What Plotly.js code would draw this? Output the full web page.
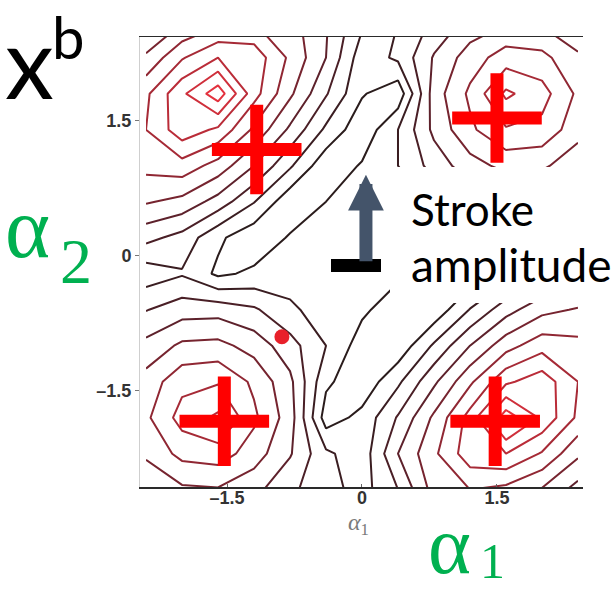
<!DOCTYPE html>
<html>
<head>
<meta charset="utf-8">
<script src="https://cdn.plot.ly/plotly-3.0.1.min.js"></script>
<style>html,body{margin:0;padding:0;background:#fff;}#chart{width:611px;height:593px;}</style>
</head>
<body>
<div id="chart"></div>
<script>
// grid of the contour field (alpha1 across, alpha2 up)
const alpha1Grid = [-2.4, -2.0, -1.6, -1.2, -0.8, -0.4, 0, 0.4, 0.8, 1.2, 1.6, 2.0, 2.4];
const alpha2Grid = [-2.6, -2.2, -1.8, -1.4, -1.0, -0.6, -0.2, 0.2, 0.6, 1.0, 1.4, 1.8, 2.2, 2.6];
const xbValues = [
  [4.0, 4.8, 4.9, 4.3, 3.2, 2.4, 1.6, 3.0, 5.4, 6.0, 5.7, 4.9, 3.6],
  [5.2, 6.3, 6.5, 5.5, 4.1, 2.2, 1.4, 4.0, 5.8, 7.6, 8.0, 6.9, 5.2],
  [5.8, 7.4, 8.2, 6.2, 4.5, 0.5, 1.3, 3.1, 5.2, 7.4, 10.6, 8.8, 6.8],
  [5.4, 6.7, 6.9, 5.8, 4.25, 1.2, 0.3, 1.8, 3.8, 5.8, 7.8, 8.6, 7.0],
  [4.3, 5.2, 5.3, 4.6, 3.4, 2.0, 0.5, 0.3, 2.15, 4.0, 5.6, 6.6, 6.3],
  [2.95, 3.55, 3.6, 3.15, 2.2, 1.5, 1.2, 0.4, 0.3, 2.05, 3.6, 4.7, 5.1],
  [1.44, 1.9, 0.8, 1.2, 1.5, 1.5, 1.5, 1.2, 0.5, 0.3, 1.5, 2.65, 3.3],
  [3.3, 2.65, 1.2, 0.3, 1.1, 1.5, 1.5, 1.5, 1.5, 1.6, 0.5, 1.9, 1.44],
  [5.1, 4.7, 3.6, 2.05, 0.3, 1.0, 1.5, 1.5, 2.2, 3.15, 3.6, 3.55, 2.95],
  [6.3, 6.6, 5.6, 4.0, 2.15, 0.3, 1.1, 2.0, 3.4, 4.6, 5.3, 5.2, 4.3],
  [7.0, 8.6, 7.8, 5.8, 3.8, 1.8, 0.3, 2.0, 4.25, 5.8, 6.9, 6.7, 5.4],
  [6.8, 8.8, 10.6, 7.4, 5.2, 3.1, 1.1, 0.3, 4.5, 6.2, 8.2, 7.4, 5.8],
  [5.2, 6.9, 8.0, 7.6, 5.8, 4.0, 1.4, 2.2, 4.1, 5.5, 6.5, 6.3, 5.2],
  [3.6, 4.9, 5.7, 6.0, 5.4, 4.1, 2.2, 2.0, 3.2, 4.3, 4.9, 4.8, 4.0]
];
// red cross markers and red dot
const crossAlpha1 = [-1.17, 1.5, -1.53, 1.48];
const crossAlpha2 = [1.18, 1.53, -1.84, -1.84];
const dotAlpha1 = [-0.89];
const dotAlpha2 = [-0.9];
// tick labels
const tickValues = [-1.5, 0, 1.5];
const tickLabels = ['\u20131.5', '0', '1.5'];

const traces = [
  {
    type: 'contour', x: alpha1Grid, y: alpha2Grid, z: xbValues,
    contours: {coloring: 'lines', start: 1, end: 10, size: 1},
    line: {width: 2, smoothing: 0},
    zauto: false, zmin: 1, zmax: 10,
    colorscale: [[0, '#2a1c1c'], [0.3, '#55202a'], [0.6, '#9a2834'], [1, '#e3323e']],
    showscale: false, hoverinfo: 'skip'
  },
  {
    type: 'scatter', mode: 'markers', x: crossAlpha1, y: crossAlpha2,
    marker: {symbol: 'cross-thin', size: 64, color: '#ff0000', line: {width: 13, color: '#ff0000'}},
    hoverinfo: 'skip'
  },
  {
    type: 'scatter', mode: 'markers', x: dotAlpha1, y: dotAlpha2,
    marker: {symbol: 'circle', size: 15, color: '#e8202a'}, hoverinfo: 'skip'
  }
];

const W = 611, H = 593, L = 140, R = 28, T = 37, B = 106;
const px = v => (v - L) / (W - L - R);
const py = v => (H - B - v) / (H - T - B);

const layout = {
  width: W, height: H,
  margin: {l: L, r: R, t: T, b: B, pad: 0},
  paper_bgcolor: '#ffffff', plot_bgcolor: '#ffffff',
  showlegend: false,
  xaxis: {
    range: [-2.467, 2.456], tickvals: tickValues, ticktext: tickLabels,
    showgrid: false, zeroline: false, showline: true, mirror: true,
    linecolor: '#2a2a2a', linewidth: 1.5, ticks: 'inside', ticklen: 3, tickcolor: '#666',
    ticklabelstandoff: -6,
    tickfont: {family: 'Liberation Sans, Arial, sans-serif', size: 18, color: '#333', weight: 'bold'}
  },
  yaxis: {
    range: [-2.57, 2.43], tickvals: tickValues, ticktext: tickLabels,
    showgrid: false, zeroline: false, showline: true, mirror: false,
    linecolor: '#cfcfcf', linewidth: 1, ticks: 'outside', ticklen: 4, tickcolor: '#777',
    tickfont: {family: 'Liberation Sans, Arial, sans-serif', size: 18, color: '#333', weight: 'bold'}
  },
  shapes: [
    {type: 'rect', xref: 'paper', yref: 'paper', x0: px(390), x1: px(615), y0: py(303), y1: py(167),
     fillcolor: '#ffffff', line: {width: 0}, layer: 'above'},
    {type: 'rect', xref: 'paper', yref: 'paper', x0: px(331), x1: px(381), y0: py(272), y1: py(259),
     fillcolor: '#000000', line: {width: 0}, layer: 'above'}
  ],
  annotations: [
    {xref: 'x', yref: 'y', x: 0.044, y: 0.9, ax: 0, ay: 88, text: '', showarrow: true,
     arrowhead: 2, arrowsize: 0.55, arrowwidth: 13, arrowcolor: '#44546a'},
    {xref: 'paper', yref: 'paper', x: px(409), y: py(209), xanchor: 'left', yanchor: 'middle',
     text: 'Stroke', showarrow: false, font: {family: 'Lato, sans-serif', size: 44, color: '#000'}},
    {xref: 'paper', yref: 'paper', x: px(409), y: py(264), xanchor: 'left', yanchor: 'middle',
     text: 'amplitude', showarrow: false, font: {family: 'Lato, sans-serif', size: 46, color: '#000'}},
    {xref: 'paper', yref: 'paper', x: px(29), y: py(61), xanchor: 'center', yanchor: 'middle',
     text: 'x', showarrow: false, font: {family: 'Lato, sans-serif', size: 98, color: '#000'}},
    {xref: 'paper', yref: 'paper', x: px(68), y: py(36), xanchor: 'center', yanchor: 'middle',
     text: 'b', showarrow: false, font: {family: 'Lato, sans-serif', size: 58, color: '#000'}},
    {xref: 'paper', yref: 'paper', x: px(27), y: py(228), xanchor: 'center', yanchor: 'middle',
     text: '\u03b1', showarrow: false, font: {family: 'Liberation Serif, serif', size: 86, color: '#00b050'}},
    {xref: 'paper', yref: 'paper', x: px(76), y: py(261), xanchor: 'center', yanchor: 'middle',
     text: '2', showarrow: false, font: {family: 'Liberation Serif, serif', size: 64, color: '#00b050'}},
    {xref: 'paper', yref: 'paper', x: px(449), y: py(545), xanchor: 'center', yanchor: 'middle',
     text: '\u03b1', showarrow: false, font: {family: 'Liberation Serif, serif', size: 82, color: '#00b050'}},
    {xref: 'paper', yref: 'paper', x: px(492), y: py(561), xanchor: 'center', yanchor: 'middle',
     text: '1', showarrow: false, font: {family: 'Liberation Serif, serif', size: 50, color: '#00b050'}},
    {xref: 'paper', yref: 'paper', x: px(358), y: py(524), xanchor: 'center', yanchor: 'middle',
     text: '<i>\u03b1</i><sub>1</sub>', showarrow: false, font: {family: 'Liberation Serif, serif', size: 24, color: '#7a7a7a'}}
  ]
};

Plotly.newPlot('chart', traces, layout, {staticPlot: true, displayModeBar: false});
</script>
</body>
</html>
